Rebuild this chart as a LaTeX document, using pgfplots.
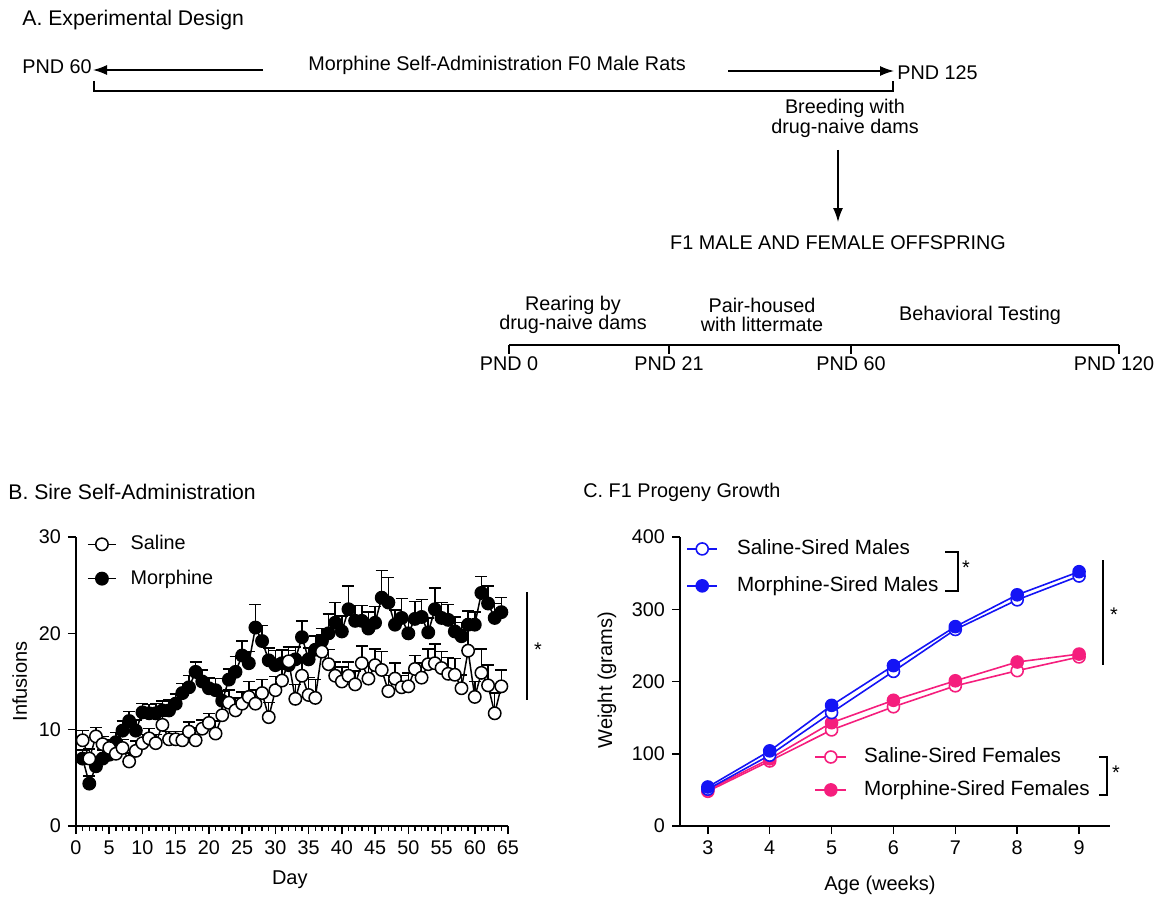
\documentclass[border=0pt]{standalone}
\usepackage{pgfplots}
\pgfplotsset{compat=1.18}
\usepackage{fontspec}
\setmainfont{Liberation Sans}
\setsansfont{Liberation Sans}
\usetikzlibrary{arrows.meta}
\definecolor{myblue}{RGB}{20,20,245}
\definecolor{mypink}{RGB}{245,30,125}
\newcommand\fs{\fontsize{9.9}{11.5}\selectfont}
\newcommand\fl{\fontsize{10.3}{12}\selectfont}
\newcommand\ft{\fontsize{10.6}{12}\selectfont}

\pgfplotstableread{
d v e
1 7.0 0.9
2 4.4 0.8
3 6.2 0.9
4 7.0 0.9
5 7.4 0.9
6 8.7 1.0
7 9.9 1.0
8 10.9 1.0
9 9.9 1.1
10 11.8 0.9
11 11.7 0.9
12 11.7 1.0
13 12.0 1.0
14 12.0 1.1
15 12.7 1.0
16 13.8 1.0
17 14.4 1.2
18 16.0 1.0
19 15.0 1.2
20 14.3 1.1
21 14.1 1.2
22 13.0 1.0
23 15.2 1.1
24 16.0 1.6
25 17.7 1.5
26 16.9 1.2
27 20.6 2.4
28 19.2 1.6
29 17.2 1.3
30 16.7 1.5
31 16.9 1.4
32 16.7 1.5
33 17.3 1.3
34 19.6 1.7
35 17.3 1.2
36 18.3 1.4
37 19.2 1.3
38 20.0 2.0
39 21.1 2.1
40 20.2 1.6
41 22.5 2.4
42 21.3 1.6
43 21.3 1.6
44 20.5 1.7
45 21.1 1.7
46 23.7 2.8
47 23.2 2.6
48 20.9 1.5
49 21.6 2.0
50 20.0 1.5
51 21.5 1.8
52 21.7 1.8
53 20.1 1.5
54 22.5 2.2
55 21.6 1.6
56 21.4 1.6
57 20.2 1.5
58 19.7 1.4
59 20.9 1.4
60 20.9 1.3
61 24.2 1.7
62 23.1 1.8
63 21.6 1.5
64 22.2 1.5
}\morphine

\pgfplotstableread{
d v e
1 8.9 1.0
2 7.0 1.0
3 9.3 0.9
4 8.5 0.8
5 8.1 0.9
6 7.5 1.0
7 8.1 0.9
8 6.7 0.9
9 7.8 1.0
10 8.6 0.9
11 9.1 1.0
12 8.6 0.9
13 10.5 0.9
14 9.0 0.8
15 9.0 0.8
16 8.9 0.9
17 9.8 1.0
18 8.9 1.3
19 10.1 0.9
20 10.7 1.0
21 9.6 1.3
22 11.5 1.2
23 12.8 1.3
24 12.0 1.3
25 12.7 1.2
26 13.4 1.6
27 12.7 1.4
28 13.8 1.4
29 11.3 1.5
30 14.1 1.4
31 15.1 1.6
32 17.1 1.5
33 13.2 1.5
34 15.6 1.5
35 13.6 1.8
36 13.3 1.9
37 18.1 1.8
38 16.8 1.5
39 15.6 1.4
40 15.0 1.5
41 15.6 1.4
42 14.7 1.4
43 16.9 1.8
44 15.3 1.6
45 16.7 1.7
46 16.2 1.9
47 14.0 1.6
48 15.3 1.6
49 14.4 1.2
50 14.5 1.4
51 16.3 1.4
52 15.4 1.5
53 16.8 1.6
54 16.9 2.0
55 16.4 1.7
56 15.8 1.7
57 15.7 1.7
58 14.3 1.4
59 18.2 2.2
60 13.4 1.6
61 15.9 2.5
62 14.6 2.1
63 11.7 2.1
64 14.5 1.7
}\saline

\pgfplotstableread{
w sm mm sf mf
3 51 54 48 50
4 98 104 90 93
5 157 167 133 143
6 214 222 165 174
7 272 276 194 201
8 313 320 215 227
9 346 352 234 238
}\growth

\pgfplotsset{
  mystyle/.style={
    scale only axis, anchor=south west, clip=false,
    axis x line*=bottom, axis y line*=left,
    tick align=outside, major tick length=4pt, minor tick length=2.3pt,
    axis line style={line width=0.75pt},
    every tick/.style={line width=0.75pt, black},
    tick label style={font=\fs},
    label style={font=\fs},
    legend cell align=left,
    /pgf/number format/assume math mode=true,
  },
}

\begin{document}
\begin{tikzpicture}
\path[use as bounding box] (0,0) rectangle (581pt,-452pt);

\begin{scope}[x=0.5pt,y=-0.5pt, every node/.style={font=\fs, inner sep=0pt}]
 % Panel A
 \node[anchor=west, font=\ft] at (22,20) {A. Experimental Design};
 \node[anchor=west] at (22,67) {PND 60};
 \draw[line width=0.7pt, -{Latex[length=7pt,width=5pt]}] (263,70) -- (93,70);
 \node at (497,65) {Morphine Self-Administration F0 Male Rats};
 \draw[line width=0.7pt, -{Latex[length=7pt,width=5pt]}] (728,71) -- (894,71);
 \node[anchor=west] at (897,73) {PND 125};
 \draw[line width=0.6pt] (94,81) -- (94,91) -- (893,91) -- (893,81);
 \node at (845,108) {Breeding with};
 \node at (845,128) {drug-naive dams};
 \draw[line width=0.7pt, -{Latex[length=7pt,width=5pt]}] (838,150) -- (838,222);
 \node at (838,243) {F1 MALE AND FEMALE OFFSPRING};
 \node at (573,305) {Rearing by};
 \node at (573,324) {drug-naive dams};
 \node at (762,305) {Pair-housed};
 \node at (762,324) {with littermate};
 \node at (980,315) {Behavioral Testing};
 \draw[line width=0.6pt] (509,345) -- (1119,345);
 \foreach \t in {509,669,851,1119} {\draw[line width=0.6pt] (\t,345) -- (\t,354);}
 \node at (509,364) {PND 0};
 \node at (669,364) {PND 21};
 \node at (851,364) {PND 60};
 \node at (1114,364) {PND 120};
 % Titles
 \node[anchor=west, font=\ft] at (8,492) {B. Sire Self-Administration};
 \node[anchor=west] at (583,492) {C. F1 Progeny Growth};
 % significance marks
 \draw[line width=0.6pt] (527,592) -- (527,700);
 \node at (538,650) {*};
 \draw[line width=0.6pt] (945,552) -- (958,552) -- (958,591) -- (945,591);
 \node at (966,568) {*};
 \draw[line width=0.6pt] (1103,560) -- (1103,665);
 \node at (1114,615) {*};
 \draw[line width=0.6pt] (1099,757) -- (1107,757) -- (1107,795) -- (1099,795);
 \node at (1116,773) {*};
\end{scope}

% Panel B
\begin{axis}[mystyle,
  at={(38pt,-413pt)}, width=216pt, height=144.5pt,
  xmin=0, xmax=65, ymin=0, ymax=30,
  xtick={0,5,...,65}, minor x tick num=4, ytick={0,10,20,30},
  xlabel={Day}, ylabel={Infusions},
  every axis x label/.style={at={(axis description cs:0.495,-0.187)}, anchor=center},
  every axis y label/.style={at={(axis description cs:-0.13,0.5)}, rotate=90, anchor=center},
  legend style={at={(axis description cs:0.025,1.02)}, anchor=north west, draw=none, fill=none,
    inner sep=0pt, font=\fs, row sep=4.5pt, nodes={inner sep=2pt},
    /tikz/every odd column/.append style={column sep=5pt}},
  legend image code/.code={\draw[mark repeat=2,mark phase=2] plot coordinates {(0pt,0pt) (7pt,0pt) (14pt,0pt)};},
  reverse legend,
]
\addplot[black, line width=0.75pt, mark=*, mark size=3.1pt, mark options={fill=black, line width=0.75pt},
  error bars/.cd, y dir=plus, y explicit, error bar style={line width=0.75pt, black},
  error mark options={rotate=90, line width=0.75pt, mark size=3pt, black}]
  table[x=d, y=v, y error=e] {\morphine};
\addlegendentry{Morphine}
\addplot[black, line width=0.75pt, mark=*, mark size=3.1pt, mark options={fill=white, line width=0.75pt},
  error bars/.cd, y dir=plus, y explicit, error bar style={line width=0.75pt, black},
  error mark options={rotate=90, line width=0.75pt, mark size=3pt, black}]
  table[x=d, y=v, y error=e] {\saline};
\addlegendentry{Saline}
\end{axis}

% Panel C - females (with axis lines)
\begin{axis}[mystyle,
  at={(340pt,-413pt)}, width=215pt, height=144.5pt,
  xmin=2.55, xmax=9.5, ymin=0, ymax=400,
  xtick={3,...,9}, ytick={0,100,...,400},
  xlabel={Age (weeks)}, ylabel={Weight (grams)},
  every axis x label/.style={at={(axis description cs:0.465,-0.204)}, anchor=center},
  every axis y label/.style={at={(axis description cs:-0.17,0.505)}, rotate=90, anchor=center},
  legend style={at={(axis description cs:0.312,0.285)}, anchor=north west, draw=none, fill=none,
    inner sep=0pt, font=\fl, row sep=3.5pt, nodes={inner sep=2pt},
    /tikz/every odd column/.append style={column sep=6.5pt}},
  legend image code/.code={\draw[mark repeat=2,mark phase=2] plot coordinates {(0pt,0pt) (7.75pt,0pt) (15.5pt,0pt)};},
]
\addplot[mypink, line width=0.8pt, mark=*, mark size=3pt, mark options={fill=white}]
  table[x=w, y=sf] {\growth};
\addlegendentry{Saline-Sired Females}
\addplot[mypink, line width=0.8pt, mark=*, mark size=3pt, mark options={fill=mypink}]
  table[x=w, y=mf] {\growth};
\addlegendentry{Morphine-Sired Females}
\end{axis}

% Panel C - males (overlay)
\begin{axis}[mystyle,
  at={(340pt,-413pt)}, width=215pt, height=144.5pt,
  xmin=2.55, xmax=9.5, ymin=0, ymax=400,
  hide axis,
  legend style={at={(axis description cs:0.014,1.005)}, anchor=north west, draw=none, fill=none,
    inner sep=0pt, font=\fl, row sep=5.5pt, nodes={inner sep=2pt},
    /tikz/every odd column/.append style={column sep=7.5pt}},
  legend image code/.code={\draw[mark repeat=2,mark phase=2] plot coordinates {(0pt,0pt) (7.5pt,0pt) (15pt,0pt)};},
]
\addplot[myblue, line width=0.8pt, mark=*, mark size=3pt, mark options={fill=white}]
  table[x=w, y=sm] {\growth};
\addlegendentry{Saline-Sired Males}
\addplot[myblue, line width=0.8pt, mark=*, mark size=3pt, mark options={fill=myblue}]
  table[x=w, y=mm] {\growth};
\addlegendentry{Morphine-Sired Males}
\end{axis}
\end{tikzpicture}
\end{document}
